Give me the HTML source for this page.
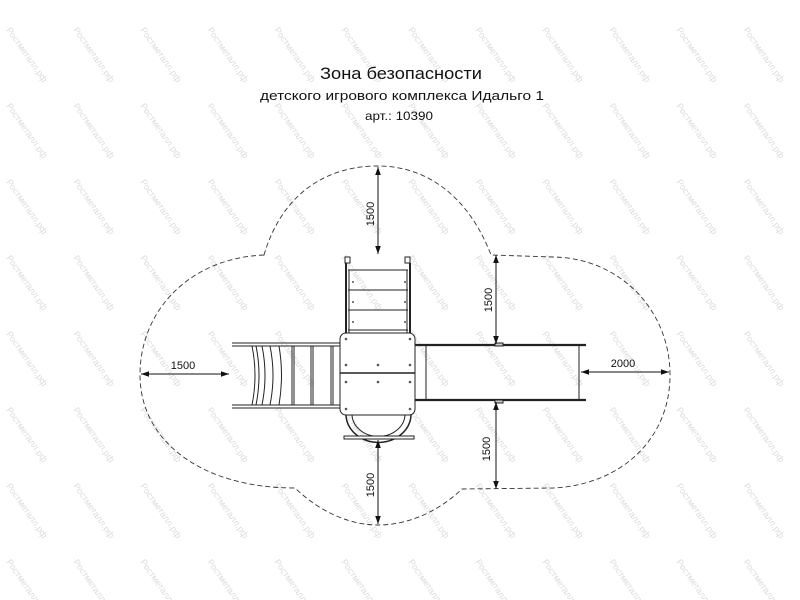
<!DOCTYPE html>
<html><head><meta charset="utf-8"><style>
html,body{margin:0;padding:0;background:#fff;width:800px;height:600px;overflow:hidden}
svg{display:block}
</style></head><body>
<svg width="800" height="600" viewBox="0 0 800 600" xmlns="http://www.w3.org/2000/svg" font-family="Liberation Sans, DejaVu Sans, sans-serif">
<defs>
<marker id="a" viewBox="0 0 10 10" refX="10" refY="5" markerWidth="8" markerHeight="8" orient="auto-start-reverse" markerUnits="userSpaceOnUse"><path d="M0,1.5 L10,5 L0,8.5 z" fill="#111"/></marker>
</defs>
<g fill="#dcdcdc" font-size="9">
<text transform="translate(6,30) rotate(55)">Ростметалл.рф</text><text transform="translate(73,30) rotate(55)">Ростметалл.рф</text><text transform="translate(140,30) rotate(55)">Ростметалл.рф</text><text transform="translate(207,30) rotate(55)">Ростметалл.рф</text><text transform="translate(274,30) rotate(55)">Ростметалл.рф</text><text transform="translate(341,30) rotate(55)">Ростметалл.рф</text><text transform="translate(408,30) rotate(55)">Ростметалл.рф</text><text transform="translate(475,30) rotate(55)">Ростметалл.рф</text><text transform="translate(542,30) rotate(55)">Ростметалл.рф</text><text transform="translate(609,30) rotate(55)">Ростметалл.рф</text><text transform="translate(676,30) rotate(55)">Ростметалл.рф</text><text transform="translate(743,30) rotate(55)">Ростметалл.рф</text>
<text transform="translate(6,106) rotate(55)">Ростметалл.рф</text><text transform="translate(73,106) rotate(55)">Ростметалл.рф</text><text transform="translate(140,106) rotate(55)">Ростметалл.рф</text><text transform="translate(207,106) rotate(55)">Ростметалл.рф</text><text transform="translate(274,106) rotate(55)">Ростметалл.рф</text><text transform="translate(341,106) rotate(55)">Ростметалл.рф</text><text transform="translate(408,106) rotate(55)">Ростметалл.рф</text><text transform="translate(475,106) rotate(55)">Ростметалл.рф</text><text transform="translate(542,106) rotate(55)">Ростметалл.рф</text><text transform="translate(609,106) rotate(55)">Ростметалл.рф</text><text transform="translate(676,106) rotate(55)">Ростметалл.рф</text><text transform="translate(743,106) rotate(55)">Ростметалл.рф</text>
<text transform="translate(6,182) rotate(55)">Ростметалл.рф</text><text transform="translate(73,182) rotate(55)">Ростметалл.рф</text><text transform="translate(140,182) rotate(55)">Ростметалл.рф</text><text transform="translate(207,182) rotate(55)">Ростметалл.рф</text><text transform="translate(274,182) rotate(55)">Ростметалл.рф</text><text transform="translate(341,182) rotate(55)">Ростметалл.рф</text><text transform="translate(408,182) rotate(55)">Ростметалл.рф</text><text transform="translate(475,182) rotate(55)">Ростметалл.рф</text><text transform="translate(542,182) rotate(55)">Ростметалл.рф</text><text transform="translate(609,182) rotate(55)">Ростметалл.рф</text><text transform="translate(676,182) rotate(55)">Ростметалл.рф</text><text transform="translate(743,182) rotate(55)">Ростметалл.рф</text>
<text transform="translate(6,258) rotate(55)">Ростметалл.рф</text><text transform="translate(73,258) rotate(55)">Ростметалл.рф</text><text transform="translate(140,258) rotate(55)">Ростметалл.рф</text><text transform="translate(207,258) rotate(55)">Ростметалл.рф</text><text transform="translate(274,258) rotate(55)">Ростметалл.рф</text><text transform="translate(341,258) rotate(55)">Ростметалл.рф</text><text transform="translate(408,258) rotate(55)">Ростметалл.рф</text><text transform="translate(475,258) rotate(55)">Ростметалл.рф</text><text transform="translate(542,258) rotate(55)">Ростметалл.рф</text><text transform="translate(609,258) rotate(55)">Ростметалл.рф</text><text transform="translate(676,258) rotate(55)">Ростметалл.рф</text><text transform="translate(743,258) rotate(55)">Ростметалл.рф</text>
<text transform="translate(6,334) rotate(55)">Ростметалл.рф</text><text transform="translate(73,334) rotate(55)">Ростметалл.рф</text><text transform="translate(140,334) rotate(55)">Ростметалл.рф</text><text transform="translate(207,334) rotate(55)">Ростметалл.рф</text><text transform="translate(274,334) rotate(55)">Ростметалл.рф</text><text transform="translate(341,334) rotate(55)">Ростметалл.рф</text><text transform="translate(408,334) rotate(55)">Ростметалл.рф</text><text transform="translate(475,334) rotate(55)">Ростметалл.рф</text><text transform="translate(542,334) rotate(55)">Ростметалл.рф</text><text transform="translate(609,334) rotate(55)">Ростметалл.рф</text><text transform="translate(676,334) rotate(55)">Ростметалл.рф</text><text transform="translate(743,334) rotate(55)">Ростметалл.рф</text>
<text transform="translate(6,410) rotate(55)">Ростметалл.рф</text><text transform="translate(73,410) rotate(55)">Ростметалл.рф</text><text transform="translate(140,410) rotate(55)">Ростметалл.рф</text><text transform="translate(207,410) rotate(55)">Ростметалл.рф</text><text transform="translate(274,410) rotate(55)">Ростметалл.рф</text><text transform="translate(341,410) rotate(55)">Ростметалл.рф</text><text transform="translate(408,410) rotate(55)">Ростметалл.рф</text><text transform="translate(475,410) rotate(55)">Ростметалл.рф</text><text transform="translate(542,410) rotate(55)">Ростметалл.рф</text><text transform="translate(609,410) rotate(55)">Ростметалл.рф</text><text transform="translate(676,410) rotate(55)">Ростметалл.рф</text><text transform="translate(743,410) rotate(55)">Ростметалл.рф</text>
<text transform="translate(6,486) rotate(55)">Ростметалл.рф</text><text transform="translate(73,486) rotate(55)">Ростметалл.рф</text><text transform="translate(140,486) rotate(55)">Ростметалл.рф</text><text transform="translate(207,486) rotate(55)">Ростметалл.рф</text><text transform="translate(274,486) rotate(55)">Ростметалл.рф</text><text transform="translate(341,486) rotate(55)">Ростметалл.рф</text><text transform="translate(408,486) rotate(55)">Ростметалл.рф</text><text transform="translate(475,486) rotate(55)">Ростметалл.рф</text><text transform="translate(542,486) rotate(55)">Ростметалл.рф</text><text transform="translate(609,486) rotate(55)">Ростметалл.рф</text><text transform="translate(676,486) rotate(55)">Ростметалл.рф</text><text transform="translate(743,486) rotate(55)">Ростметалл.рф</text>
<text transform="translate(6,562) rotate(55)">Ростметалл.рф</text><text transform="translate(73,562) rotate(55)">Ростметалл.рф</text><text transform="translate(140,562) rotate(55)">Ростметалл.рф</text><text transform="translate(207,562) rotate(55)">Ростметалл.рф</text><text transform="translate(274,562) rotate(55)">Ростметалл.рф</text><text transform="translate(341,562) rotate(55)">Ростметалл.рф</text><text transform="translate(408,562) rotate(55)">Ростметалл.рф</text><text transform="translate(475,562) rotate(55)">Ростметалл.рф</text><text transform="translate(542,562) rotate(55)">Ростметалл.рф</text><text transform="translate(609,562) rotate(55)">Ростметалл.рф</text><text transform="translate(676,562) rotate(55)">Ростметалл.рф</text><text transform="translate(743,562) rotate(55)">Ростметалл.рф</text>
</g>

<g fill="#111" text-anchor="middle">
<text x="401" y="79" font-size="17" textLength="162" lengthAdjust="spacingAndGlyphs">Зона безопасности</text>
<text x="402" y="100" font-size="13" textLength="284" lengthAdjust="spacingAndGlyphs">детского игрового комплекса Идальго 1</text>
<text x="399" y="120" font-size="12" textLength="68" lengthAdjust="spacingAndGlyphs">арт.: 10390</text>
</g>

<path d="M264,255 C190,258 140,310 140,375 C140,440 200,488 295,488 C320,512 350,525 378,525 C410,525 440,510 462,489 L553,488 C620,485 670,440 670,375 C670,310 620,258 553,257 L491,255 C470,200 430,166 378,166 C320,166 280,200 264,255 Z" fill="none" stroke="#333" stroke-width="0.9" stroke-dasharray="5,3"/>

<g fill="none" stroke="#222" stroke-width="1">
<rect x="345" y="257" width="5" height="6" fill="#fff"/>
<rect x="405" y="257" width="5" height="6" fill="#fff"/>
<line x1="346" y1="263" x2="346" y2="333" stroke-width="2"/>
<line x1="410" y1="263" x2="410" y2="333" stroke-width="2"/>
<line x1="348" y1="270" x2="408" y2="270"/>
<line x1="348" y1="290" x2="408" y2="290"/>
<line x1="348" y1="310" x2="408" y2="310"/>
<line x1="348" y1="330" x2="408" y2="330"/>
<line x1="349" y1="270" x2="349" y2="333"/>
<line x1="407" y1="270" x2="407" y2="333"/>
<path d="M232,343 L340,343 M232,346 L340,346 M232,405 L340,405 M232,408 L340,408"/>
<path d="M252,346 Q258,375 252,405 M256,346 Q262,375 256,405 M262,346 Q268,375 262,405 M270,346 Q276,375 270,405 M279,346 Q284,375 279,405 M292,346 L292,405 M294,346 L294,405 M311,346 L311,405 M313,346 L313,405 M331,346 L331,405 M333,346 L333,405"/>
<path d="M346,414 A32,28 0 0 0 411,414" stroke-width="1.5"/>
<path d="M352,414 A26,22 0 0 0 405,414"/>
<rect x="344" y="436" width="70" height="3" fill="#fff"/>
<rect x="340" y="333" width="75" height="82" rx="6" fill="#fff"/>
<line x1="340" y1="373" x2="415" y2="373" stroke-width="1.5"/>
<line x1="415" y1="345" x2="586" y2="345" stroke-width="2.2"/>
<line x1="415" y1="400" x2="586" y2="400" stroke-width="2.2"/>
<line x1="426" y1="345" x2="426" y2="400"/>
<line x1="579" y1="345" x2="579" y2="400"/>
<rect x="495" y="343" width="8" height="3" fill="#ccc"/>
<rect x="495" y="400" width="8" height="3" fill="#ccc"/>
</g>
<g fill="#555">
<circle cx="353" cy="282" r="1"/><circle cx="405" cy="282" r="1"/><circle cx="353" cy="302" r="1"/><circle cx="405" cy="302" r="1"/><circle cx="353" cy="322" r="1"/><circle cx="405" cy="322" r="1"/>
<circle cx="346" cy="339" r="1.3"/><circle cx="410" cy="339" r="1.3"/><circle cx="346" cy="365" r="1.3"/><circle cx="378" cy="365" r="1.3"/><circle cx="410" cy="365" r="1.3"/><circle cx="346" cy="382" r="1.3"/><circle cx="378" cy="382" r="1.3"/><circle cx="410" cy="382" r="1.3"/><circle cx="346" cy="409" r="1.3"/><circle cx="410" cy="409" r="1.3"/>
</g>

<g stroke="#111" stroke-width="1" fill="none">
<line x1="378" y1="167" x2="378" y2="254" marker-start="url(#a)" marker-end="url(#a)"/>
<line x1="496" y1="255" x2="496" y2="344" marker-start="url(#a)" marker-end="url(#a)"/>
<line x1="496" y1="402" x2="496" y2="489" marker-start="url(#a)" marker-end="url(#a)"/>
<line x1="378" y1="440" x2="378" y2="524" marker-start="url(#a)" marker-end="url(#a)"/>
<line x1="141" y1="374" x2="229" y2="374" marker-start="url(#a)" marker-end="url(#a)"/>
<line x1="581" y1="372" x2="669" y2="372" marker-start="url(#a)" marker-end="url(#a)"/>
</g>
<g fill="#111" font-size="11" text-anchor="middle">
<text transform="translate(374,214) rotate(-90)">1500</text>
<text transform="translate(492,300) rotate(-90)">1500</text>
<text transform="translate(490,449) rotate(-90)">1500</text>
<text transform="translate(374,485) rotate(-90)">1500</text>
<text x="183" y="369">1500</text>
<text x="623" y="367">2000</text>
</g>
</svg>
</body></html>
